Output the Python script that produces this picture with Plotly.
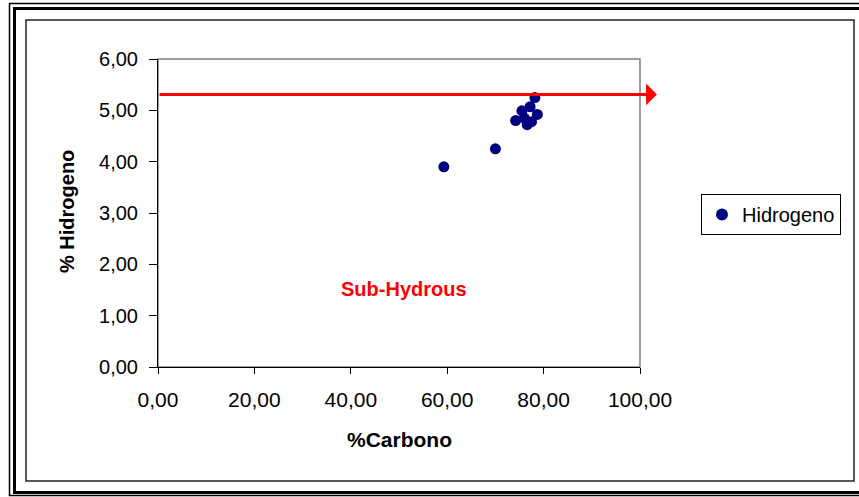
import plotly.graph_objects as go

# Elemental analysis: carbon vs hydrogen content (%)
carbono = [59.3, 70.0, 78.2, 75.5, 77.2, 78.7, 74.2, 76.6, 77.5, 76.0]
hidrogeno = [3.90, 4.25, 5.25, 4.99, 5.07, 4.92, 4.80, 4.72, 4.78, 4.85]

serie_nombre = "Hidrogeno"
limite_h = 5.31          # hydrous / sub-hydrous boundary
limite_x_fin = 103.5     # arrow tip, just past the right edge of the axis
etiqueta_zona = "Sub-Hydrous"
zona_x, zona_y = 51.0, 1.52

x_ticks = [0, 20, 40, 60, 80, 100]
y_ticks = [0, 1, 2, 3, 4, 5, 6]

W, H = 859, 497
ML, MR, MT, MB = 158, 219, 59, 130
PW, PH = W - ML - MR, H - MT - MB


def px(xp):
    return (xp - ML) / PW


def py(yp):
    return (H - MB - yp) / PH


fig = go.Figure()
fig.add_trace(go.Scatter(
    x=carbono, y=hidrogeno, mode="markers", name=serie_nombre,
    marker=dict(color="#000080", size=11, line=dict(width=0)),
    showlegend=True, cliponaxis=False,
))

font_family = "Arial, Liberation Sans, sans-serif"

shapes = [
    # grey frame of the plot area (top and right edges)
    dict(type="rect", xref="paper", yref="paper", x0=0, y0=0, x1=1, y1=1,
         line=dict(color="#808080", width=1.5), layer="below"),
    # outer double border of the chart
    dict(type="rect", xref="paper", yref="paper",
         x0=px(9.5), y0=py(495.5), x1=px(880), y1=py(3.5),
         line=dict(color="#000000", width=1.5)),
    dict(type="rect", xref="paper", yref="paper",
         x0=px(14.5), y0=py(492.5), x1=px(880), y1=py(8.5),
         line=dict(color="#000000", width=3)),
    # inner chart-area border
    dict(type="rect", xref="paper", yref="paper",
         x0=px(26), y0=py(481), x1=px(854), y1=py(20),
         line=dict(color="#222222", width=1.5)),
]

annotations = [
    # red boundary arrow
    dict(x=limite_x_fin, y=limite_h, xref="x", yref="y",
         ax=0, ay=limite_h, axref="x", ayref="y",
         text="", showarrow=True, arrowhead=1, arrowsize=1.2,
         arrowwidth=3, arrowcolor="#ff0000", standoff=0, startstandoff=0),
    dict(x=zona_x, y=zona_y, xref="x", yref="y", text="<b>%s</b>" % etiqueta_zona,
         xanchor="center", yanchor="middle", showarrow=False,
         font=dict(family=font_family, size=20, color="#ff0000")),
    dict(x=px(67), y=py(212), xref="paper", yref="paper", text="<b>% Hidrogeno</b>",
         xanchor="center", yanchor="middle", textangle=-90, showarrow=False,
         font=dict(family=font_family, size=20, color="#000000")),
    dict(x=px(399), y=py(439), xref="paper", yref="paper", text="<b>%Carbono</b>",
         xanchor="center", yanchor="middle", showarrow=False,
         font=dict(family=font_family, size=21, color="#000000")),
]

fig.update_layout(
    width=W, height=H,
    margin=dict(l=ML, r=MR, t=MT, b=MB, autoexpand=False),
    paper_bgcolor="#ffffff", plot_bgcolor="#ffffff",
    separators=",.",
    font=dict(family=font_family, color="#000000"),
    shapes=shapes, annotations=annotations,
    legend=dict(
        x=px(701), y=py(194), xanchor="left", yanchor="top",
        bordercolor="#000000", borderwidth=1, bgcolor="#ffffff",
        font=dict(family=font_family, size=20, color="#000000"),
        itemsizing="constant",
    ),
    xaxis=dict(
        range=[0, 100], tickvals=x_ticks, tickformat=".2f",
        showgrid=False, zeroline=False, showline=True, linecolor="#000000", linewidth=1,
        ticks="outside", ticklen=6, tickcolor="#000000", ticklabelstandoff=8,
        tickfont=dict(size=21), fixedrange=True,
    ),
    yaxis=dict(
        range=[0, 6], tickvals=y_ticks, tickformat=".2f",
        showgrid=False, zeroline=False, showline=True, linecolor="#000000", linewidth=1,
        ticks="outside", ticklen=8, tickcolor="#000000", ticklabelstandoff=7,
        tickfont=dict(size=20), fixedrange=True,
    ),
)

fig.write_html("out.html")
